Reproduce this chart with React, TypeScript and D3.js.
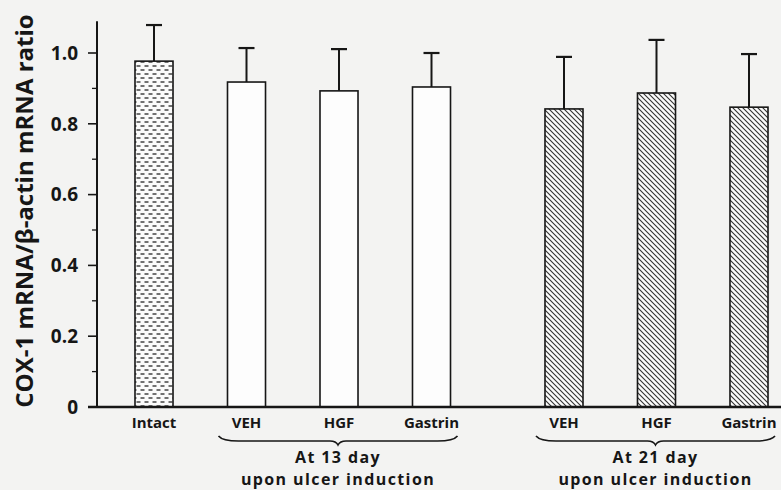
import React from "react";
import * as d3 from "d3";

// bar data
const labels = ["Intact", "VEH", "HGF", "Gastrin", "VEH", "HGF", "Gastrin"];
const groups = ["intact", "d13", "d13", "d13", "d21", "d21", "d21"];
const means = [0.977, 0.918, 0.893, 0.904, 0.842, 0.887, 0.847];
const upper = [1.079, 1.014, 1.011, 1.0, 0.989, 1.037, 0.997];

const yTicks = [0, 0.2, 0.4, 0.6, 0.8, 1.0];
const yTickLabels = ["0", "0.2", "0.4", "0.6", "0.8", "1.0"];
const yMinor = [0.1, 0.3, 0.5, 0.7, 0.9];

const groupCaptions = [
  { group: "d13", lines: ["At 13 day", "upon ulcer induction"] },
  { group: "d21", lines: ["At 21 day", "upon ulcer induction"] },
];

const W = 781;
const H = 490;
const FONT = "'Open Sans', Lato, sans-serif";
const INK = "#161616";

export default function App() {
  const keys = labels.map((d, i) => `${i}`);
  const groupGap = 40;

  const x = d3
    .scaleBand<string>()
    .domain(keys)
    .range([88.75, 774.25])
    .paddingInner(0.589)
    .paddingOuter(0.5);

  const barX = (i: number) => (x(keys[i]) as number) + (groups[i] === "d21" ? groupGap : 0);
  const bw = x.bandwidth();

  const y = d3.scaleLinear().domain([0, 1]).range([407, 53]);
  const axisLeft = 97;
  const yTop = y(1.09);

  const fillFor = (g: string) =>
    g === "intact" ? "url(#dots)" : g === "d21" ? "url(#hatch)" : "#fdfdfd";

  const braces = groupCaptions.map((c) => {
    const idx = groups.map((g, i) => (g === c.group ? i : -1)).filter((i) => i >= 0);
    const x0 = barX(idx[0]) - 9;
    const x1 = barX(idx[idx.length - 1]) + bw + 7;
    return { ...c, x0, x1, mid: (x0 + x1) / 2 };
  });

  const bracePath = (x0: number, x1: number, yb: number) => {
    const m = (x0 + x1) / 2;
    const h = 5;
    return `M${x0},${yb} Q${x0 + 4},${yb + h} ${x0 + 20},${yb + h} L${m - 8},${yb + h} Q${m - 2},${yb + h} ${m},${yb + h + 4} Q${m + 2},${yb + h} ${m + 8},${yb + h} L${x1 - 20},${yb + h} Q${x1 - 4},${yb + h} ${x1},${yb}`;
  };

  return (
    <div style={{ position: "fixed", left: 0, top: 0 }}>
      <svg width={W} height={H} style={{ display: "block", background: "#f3f3f2" }}>
        <defs>
          <pattern id="dots" patternUnits="userSpaceOnUse" width="8" height="8">
            <rect width="8" height="8" fill="#fbfbfb" />
            <path d="M0.5,2 H4.5 M4.5,6 H8.5 M-3.5,6 H0.5" stroke="#444" strokeWidth="1.4" />
          </pattern>
          <pattern id="hatch" patternUnits="userSpaceOnUse" width="5" height="5">
            <rect width="5" height="5" fill="#fbfbfb" />
            <path d="M-1,-1 L6,6 M-1,4 L1,6 M4,-1 L6,1" stroke="#333" strokeWidth="1.1" />
          </pattern>
        </defs>

        {/* y axis */}
        <line x1={axisLeft} x2={axisLeft} y1={yTop} y2={y(0)} stroke={INK} strokeWidth={2} />
        {yTicks.map((t, i) => (
          <g key={`t${i}`}>
            <line x1={axisLeft - 9} x2={axisLeft} y1={y(t)} y2={y(t)} stroke={INK} strokeWidth={1.6} />
            <text
              x={78}
              y={y(t)}
              dy="0.36em"
              textAnchor="end"
              fontFamily={FONT}
              fontWeight={700}
              fontSize={19}
              fill={INK}
            >
              {yTickLabels[i]}
            </text>
          </g>
        ))}
        {yMinor.map((t) => (
          <line key={`m${t}`} x1={axisLeft - 5} x2={axisLeft} y1={y(t)} y2={y(t)} stroke={INK} strokeWidth={1.3} />
        ))}
        <text
          transform={`translate(33,${211}) rotate(-90)`}
          textAnchor="middle"
          fontFamily={FONT}
          fontWeight={700}
          fontSize={24}
          fill={INK}
        >
          COX-1 mRNA/β-actin mRNA ratio
        </text>

        {/* bars */}
        {means.map((v, i) => {
          const bx = barX(i);
          const cx = bx + bw / 2;
          return (
            <g key={`b${i}`}>
              <line x1={cx} x2={cx} y1={y(v)} y2={y(upper[i])} stroke={INK} strokeWidth={2} />
              <line x1={cx - 8} x2={cx + 8} y1={y(upper[i])} y2={y(upper[i])} stroke={INK} strokeWidth={2.2} />
              <rect
                x={bx}
                y={y(v)}
                width={bw}
                height={y(0) - y(v)}
                fill={fillFor(groups[i])}
                stroke={INK}
                strokeWidth={1.6}
              />
              <text
                x={cx}
                y={428}
                textAnchor="middle"
                fontFamily={FONT}
                fontWeight={700}
                fontSize={15}
                fill={INK}
              >
                {labels[i]}
              </text>
            </g>
          );
        })}

        {/* x axis */}
        <line x1={88} x2={W} y1={y(0)} y2={y(0)} stroke={INK} strokeWidth={2.4} />

        {/* group braces and captions */}
        {braces.map((b) => (
          <g key={b.group}>
            <path d={bracePath(b.x0, b.x1, 436)} fill="none" stroke={INK} strokeWidth={1.6} />
            {b.lines.map((l, j) => (
              <text
                key={j}
                x={b.mid}
                y={463 + j * 22}
                textAnchor="middle"
                fontFamily={FONT}
                fontWeight={700}
                fontSize={16}
                letterSpacing={1.4}
                fill={INK}
              >
                {l}
              </text>
            ))}
          </g>
        ))}
      </svg>
    </div>
  );
}
